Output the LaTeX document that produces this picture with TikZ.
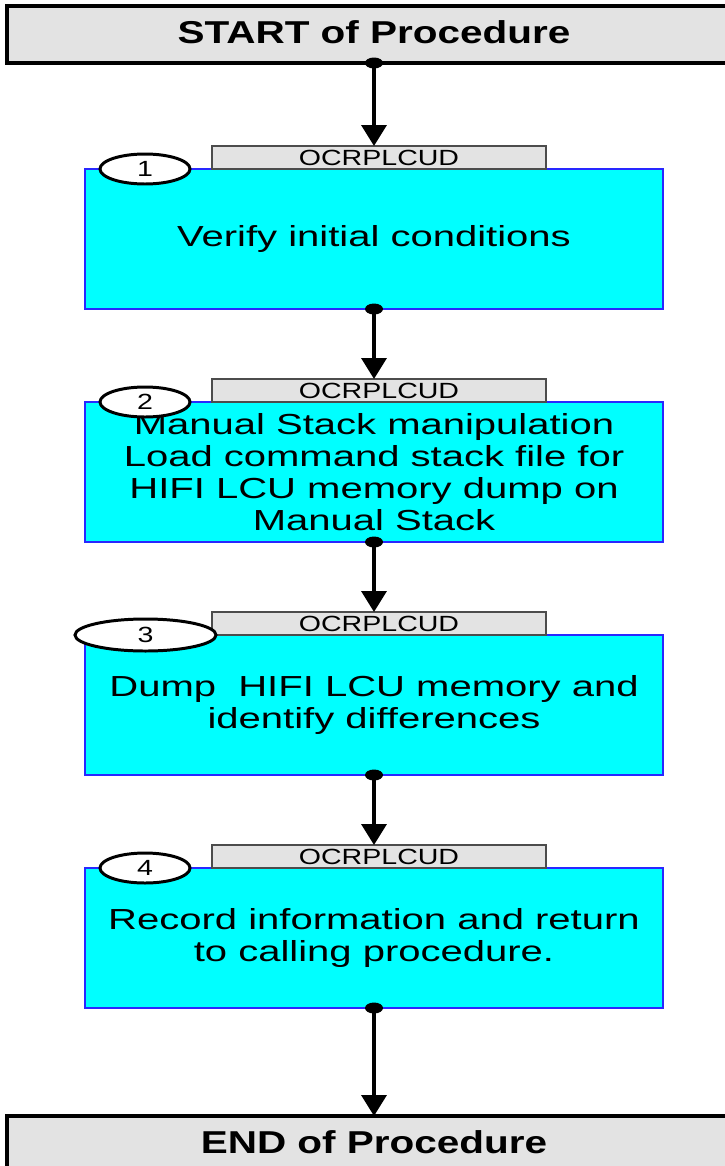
\documentclass[tikz,border=0pt]{standalone}
\usepackage{fontspec}
\usepackage{xcolor}
\usepackage{tikz}
\usetikzlibrary{arrows.meta,positioning,shapes.geometric}
\newfontfamily\boxfont[FakeStretch=1.38]{Liberation Sans}
\newfontfamily\capfont[FakeStretch=1.28]{Liberation Sans}
\newfontfamily\tabfont[FakeStretch=1.3]{Liberation Sans}
\definecolor{stepcyan}{RGB}{0,255,255}
\definecolor{stepblue}{RGB}{40,40,255}
\definecolor{tabgray}{RGB}{227,227,227}

\begin{document}
\begin{tikzpicture}[
    node distance=1.86cm,
    every node/.style={outer sep=0pt},
    capbox/.style={draw, line width=2.2pt, fill=tabgray, minimum width=14.68cm, inner ysep=0pt, text height=0.74cm, text depth=0.40cm, font=\capfont\bfseries\fontsize{18}{20}\selectfont},
    stepbox/.style={draw=stepblue, line width=0.9pt, fill=stepcyan, align=center, minimum width=11.56cm, minimum height=2.8cm, inner sep=0pt, font=\boxfont\fontsize{16.5}{18.2}\selectfont},
    tabbox/.style={draw=black!70, line width=0.9pt, fill=tabgray, minimum width=6.68cm, minimum height=0.46cm, inner sep=0pt, font=\tabfont\fontsize{12.5}{13}\selectfont},
    numoval/.style={draw, ellipse, line width=1.7pt, fill=white, minimum width=1.8cm, minimum height=0.6cm, inner sep=0pt, font=\tabfont\fontsize{12.5}{13}\selectfont},
    arrow/.style={-{Triangle[length=0.42cm, width=0.5cm]}, line width=2pt}
]
\useasboundingbox (0,0) rectangle (14.5,-23.32);
\clip (0,0) rectangle (14.5,-23.32);

% steps
\node[stepbox] (step1) at (7.48,-4.78) {Verify initial conditions};
\node[stepbox, below=of step1] (step2) {Manual Stack manipulation\\Load command stack file for\\HIFI LCU memory dump on\\Manual Stack};
\node[stepbox, below=of step2] (step3) {Dump\ \ HIFI LCU memory and\\identify differences};
\node[stepbox, below=of step3] (step4) {Record information and return\\to calling procedure.};

% start / end
\node[capbox, above=2.12cm of step1] (start) {START of Procedure};
\node[capbox, below=2.16cm of step4] (finish) {END of Procedure};

% tabs
\node[tabbox, above=0pt of step1, xshift=0.1cm] (tab1) {OCRPLCUD};
\node[tabbox, above=0pt of step2, xshift=0.1cm] (tab2) {OCRPLCUD};
\node[tabbox, above=0pt of step3, xshift=0.1cm] (tab3) {OCRPLCUD};
\node[tabbox, above=0pt of step4, xshift=0.1cm] (tab4) {OCRPLCUD};

% numbers
\node[numoval] (n1) at ([xshift=1.2cm]step1.north west) {1};
\node[numoval] (n2) at ([xshift=1.2cm]step2.north west) {2};
\node[numoval, minimum width=2.82cm, minimum height=0.64cm] (n3) at ([xshift=1.21cm]step3.north west) {3};
\node[numoval] (n4) at ([xshift=1.2cm]step4.north west) {4};

% connectors
\draw[arrow] (start.south) -- (start.south |- tab1.north);
\draw[arrow] (step1.south) -- (step1.south |- tab2.north);
\draw[arrow] (step2.south) -- (step2.south |- tab3.north);
\draw[arrow] (step3.south) -- (step3.south |- tab4.north);
\draw[arrow] (step4.south) -- (finish.north);
\fill (start.south) ellipse (0.18cm and 0.11cm);
\fill (step1.south) ellipse (0.18cm and 0.11cm);
\fill (step2.south) ellipse (0.18cm and 0.11cm);
\fill (step3.south) ellipse (0.18cm and 0.11cm);
\fill (step4.south) ellipse (0.18cm and 0.11cm);
\end{tikzpicture}
\end{document}
